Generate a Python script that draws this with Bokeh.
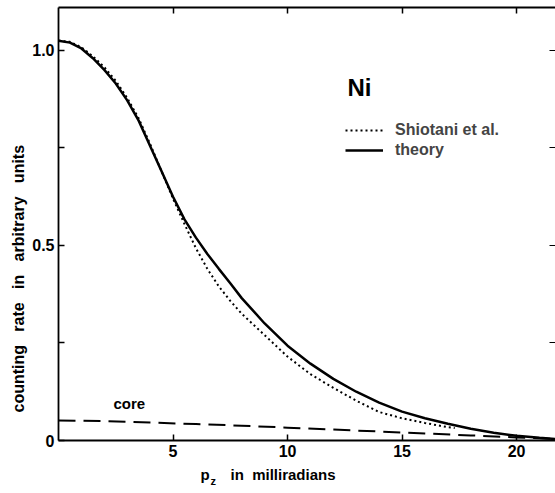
from bokeh.plotting import figure
from bokeh.models import (Range1d, FixedTicker, LinearAxis, Label, Legend,
                          LegendItem, Title)
from bokeh.embed import file_html
from bokeh.resources import INLINE

# Momentum component p_z (milliradians) and counting rates (arbitrary units)
theory_x = [0, 0.5, 1.0, 1.5, 2.0, 2.5, 3.0, 3.5, 4.0, 4.5, 5.0, 5.5, 6.0, 6.5,
            7.0, 7.5, 8.0, 9.0, 10.0, 11.0, 12.0, 13.0, 14.0, 15.0, 16.0, 17.0,
            18.0, 19.0, 20.0, 21.0, 21.7]
theory_y = [1.025, 1.02, 1.005, 0.98, 0.95, 0.915, 0.872, 0.82, 0.755, 0.69,
            0.625, 0.567, 0.52, 0.478, 0.44, 0.403, 0.365, 0.30, 0.243, 0.197,
            0.158, 0.125, 0.097, 0.074, 0.057, 0.043, 0.03, 0.02, 0.012, 0.007,
            0.004]

shiotani_x = [0, 0.5, 1.0, 1.5, 2.0, 2.5, 3.0, 3.5, 4.0, 4.5, 5.0, 5.5, 6.0,
              6.5, 7.0, 7.5, 8.0, 9.0, 10.0, 11.0, 12.0, 13.0, 14.0, 15.0,
              16.0, 17.0, 17.3]
shiotani_y = [1.025, 1.022, 1.008, 0.985, 0.957, 0.922, 0.878, 0.826, 0.76,
              0.69, 0.62, 0.555, 0.493, 0.44, 0.395, 0.358, 0.325, 0.27,
              0.215, 0.17, 0.135, 0.102, 0.073, 0.057, 0.045, 0.034, 0.032]

core_x = [0, 2, 4, 6, 8, 10, 12, 14, 16, 18, 20, 21.7]
core_y = [0.051, 0.050, 0.046, 0.042, 0.038, 0.033, 0.028, 0.023, 0.018,
          0.013, 0.008, 0.004]

x_ticks = [5, 10, 15, 20]
y_ticks = [0, 0.25, 0.5, 0.75, 1.0]
y_tick_labels = {0: "0", 0.25: "", 0.5: "0.5", 0.75: "", 1.0: "1.0"}

FONT = "Liberation Sans"
NB = "\u00a0"

p = figure(width=555, height=493, output_backend="svg", toolbar_location=None,
           x_range=Range1d(0, 21.7), y_range=Range1d(0, 1.11),
           min_border_left=58, min_border_right=0, min_border_top=7,
           min_border_bottom=53, x_axis_location=None, y_axis_location=None)
p.outline_line_color = None
p.grid.visible = False
p.background_fill_color = "white"
p.border_fill_color = "white"


def style_axis(ax, ticks, show_labels, line=True):
    ax.ticker = FixedTicker(ticks=ticks)
    ax.major_tick_in = 6
    ax.major_tick_out = 0
    ax.minor_tick_line_color = None
    ax.major_tick_line_width = 1.5
    ax.major_tick_line_color = "black"
    ax.axis_line_width = 1.8 if line else 0
    ax.axis_line_color = "black" if line else None
    ax.major_label_text_font = FONT
    ax.major_label_text_font_style = "bold"
    ax.major_label_text_font_size = "16px" if show_labels else "0px"
    ax.major_label_text_color = "black"
    ax.major_label_standoff = 4 if show_labels else 0


bottom = LinearAxis()
style_axis(bottom, x_ticks, True)
p.add_layout(bottom, "below")

left = LinearAxis()
style_axis(left, y_ticks, True)
left.major_label_overrides = y_tick_labels
left.major_label_orientation = "horizontal"
p.add_layout(left, "left")

top = LinearAxis()
style_axis(top, x_ticks, False)
top.major_label_overrides = {t: "" for t in x_ticks}
p.add_layout(top, "above")

right = LinearAxis()
style_axis(right, [0.25, 0.5, 0.75, 1.0], False, line=False)
right.major_label_overrides = {t: "" for t in [0.25, 0.5, 0.75, 1.0]}
right.major_tick_line_width = 1.0
p.add_layout(right, "right")

r_shiotani = p.line(shiotani_x, shiotani_y, line_color="black", line_width=2,
                    line_dash="2 3")
r_theory = p.line(theory_x, theory_y, line_color="black", line_width=2.5)
p.line(core_x, core_y, line_color="black", line_width=2, line_dash="17 8")

legend = Legend(items=[LegendItem(label="Shiotani et al.", renderers=[r_shiotani]),
                       LegendItem(label="theory", renderers=[r_theory])],
                location=(287, 280), orientation="vertical",
                background_fill_alpha=0, border_line_color=None,
                padding=0, margin=0, spacing=0,
                glyph_width=38, glyph_height=20, label_height=20,
                label_standoff=12, label_text_font=FONT,
                label_text_font_style="bold", label_text_font_size="16px")
p.add_layout(legend)

p.add_layout(Label(x=12.62, y=0.87, text="Ni", text_font=FONT,
                   text_font_style="bold", text_font_size="24px",
                   text_color="black"))
p.add_layout(Label(x=2.4, y=0.072, text="core", text_font=FONT,
                   text_font_style="bold", text_font_size="15px",
                   text_color="black"))

# axis titles, drawn as side titles so they sit outside the frame
x_title = Title(text="p" + NB * 5 + "in" + NB * 2 + "milliradians",
                align="left", vertical_align="top", offset=142, standoff=13,
                text_font=FONT, text_font_style="bold", text_font_size="15px",
                text_color="black")
p.add_layout(x_title, "below")
# subscript z of p_z, pulled up beside the "p"
z_title = Title(text="z", align="left", vertical_align="top", offset=152,
                standoff=-34, text_font=FONT, text_font_style="bold",
                text_font_size="11px", text_color="black")
p.add_layout(z_title, "below")

y_title = Title(text=(NB * 3).join(["counting", "rate", "in", "arbitrary", "units"]),
                align="left", offset=28, standoff=5, text_font=FONT,
                text_font_style="bold", text_font_size="16px",
                text_color="black")
p.add_layout(y_title, "left")

open("out.html", "w").write(file_html(p, INLINE))
